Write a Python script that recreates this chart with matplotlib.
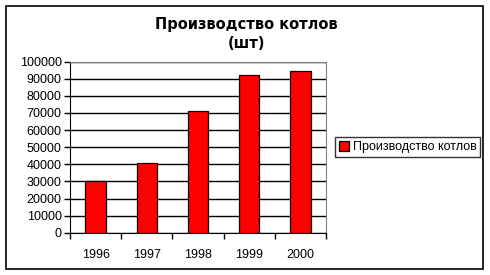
import matplotlib.pyplot as plt
from matplotlib.patches import Rectangle

plt.rcParams['font.family'] = ['Liberation Sans', 'DejaVu Sans']

# data
years = ['1996', '1997', '1998', '1999', '2000']
boilers = [30500, 41000, 71000, 92500, 94300]
series_name = 'Производство котлов'
title_lines = ['Производство котлов', '(шт)']

W, H = 490, 275
fig = plt.figure(figsize=(W / 100, H / 100), dpi=100)

# outer chart frame
fig.add_artist(Rectangle((6 / W, (H - 269) / H), 477 / W, 263 / H,
                         transform=fig.transFigure, fill=False,
                         edgecolor='black', linewidth=1.2))

ax = fig.add_axes([70 / W, (H - 232.7) / H, 256 / W, 171 / H])
x = range(len(years))
ax.bar(x, boilers, width=0.4, color='#ff0000', edgecolor='black',
       linewidth=0.9, zorder=3, label=series_name)

ax.set_xlim(-0.5, len(years) - 0.5)
ax.set_ylim(0, 100000)
ax.set_yticks(range(0, 100001, 10000))
ax.set_yticklabels([str(v) for v in range(0, 100001, 10000)], fontsize=9)
ax.set_xticks(list(x))
ax.set_xticklabels(years, fontsize=9)
ax.set_xticks([i - 0.5 for i in range(len(years) + 1)], minor=True)
ax.tick_params(axis='x', which='major', length=0, pad=12)
ax.tick_params(axis='x', which='minor', length=4, direction='out', width=1)
ax.tick_params(axis='y', length=4, direction='out', width=1, pad=2)

ax.yaxis.grid(True, color='black', linewidth=1)
ax.set_axisbelow(True)
for side in ['top', 'right']:
    ax.spines[side].set_color('#808080')
for side in ['left', 'bottom']:
    ax.spines[side].set_color('black')

fig.text(246 / W, (H - 25) / H, title_lines[0], ha='center', va='center',
         fontsize=10.5, fontweight='bold', family='DejaVu Sans')
fig.text(246 / W, (H - 43) / H, title_lines[1], ha='center', va='center',
         fontsize=10.5, fontweight='bold', family='DejaVu Sans')

leg = fig.legend(loc='center left', bbox_to_anchor=(335 / W, (H - 147) / H),
                 fontsize=9, frameon=True, fancybox=False, handlelength=0.8,
                 handleheight=0.8, handletextpad=0.3, borderpad=0.3,
                 borderaxespad=0)
leg.get_frame().set_edgecolor('black')
leg.get_frame().set_linewidth(1)

fig.savefig('out.png', dpi=100)
